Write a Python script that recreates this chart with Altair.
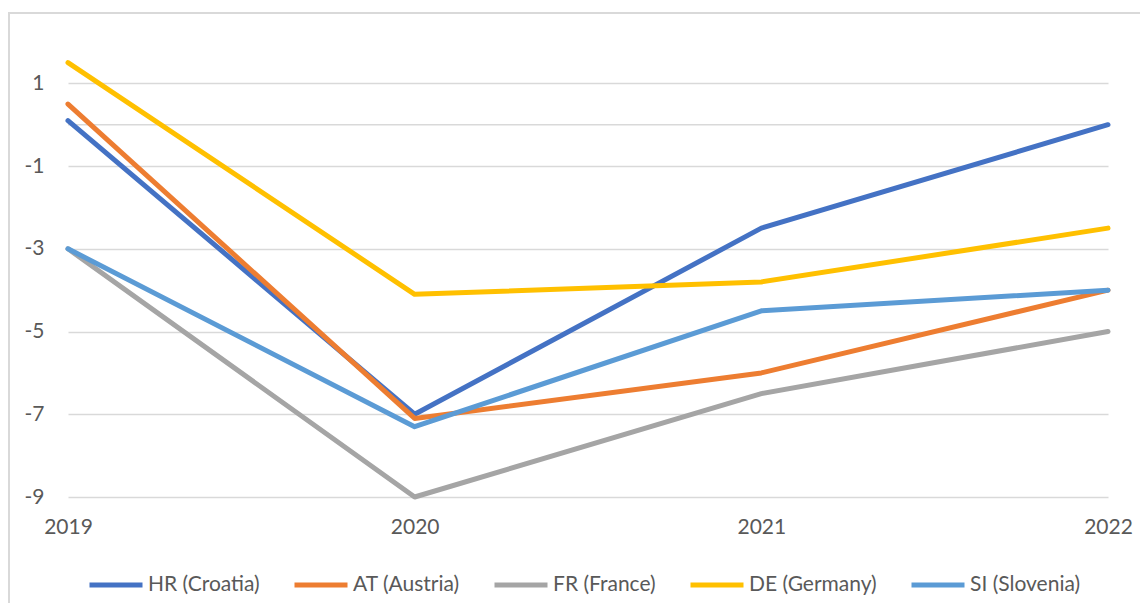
import altair as alt
import pandas as pd

years = ["2019", "2020", "2021", "2022"]
series_names = ["HR (Croatia)", "AT (Austria)", "FR (France)", "DE (Germany)", "SI (Slovenia)"]
hr = [0.1, -7.0, -2.5, 0.0]
at = [0.5, -7.1, -6.0, -4.0]
fr = [-3.0, -9.0, -6.5, -5.0]
de = [1.5, -4.1, -3.8, -2.5]
si = [-3.0, -7.3, -4.5, -4.0]
colors = ["#4472C4", "#ED7D31", "#A5A5A5", "#FFC000", "#5B9BD5"]
y_ticks = [1, -1, -3, -5, -7, -9]

rows = []
for name, vals in zip(series_names, [hr, at, fr, de, si]):
    for yr, v in zip(years, vals):
        rows.append({"Year": yr, "Series": name, "Value": v})
df = pd.DataFrame(rows)

FONT = "Lato"
TXT = "#595959"
GRID = "#D9D9D9"

x_enc = alt.X("Year:O", scale=alt.Scale(type="point", padding=0),
              axis=alt.Axis(title=None, labelAngle=0, domain=False, ticks=False,
                            labelPadding=19, labelFontSize=21, labelColor=TXT,
                            labelFont=FONT, grid=False))
y_scale = alt.Scale(domain=[-9, 2], nice=False, zero=False)
y_axis = alt.Axis(title=None, values=y_ticks, domain=False, ticks=False,
                  labelPadding=24, labelFontSize=21, labelColor=TXT,
                  labelFont=FONT, grid=True, gridColor=GRID, gridWidth=1.5,
                  labelExpr="toString(datum.value)")

lines = alt.Chart(df).mark_line(strokeWidth=5, strokeCap="round", strokeJoin="round").encode(
    x=x_enc,
    y=alt.Y("Value:Q", scale=y_scale, axis=y_axis),
    color=alt.Color("Series:N", scale=alt.Scale(domain=series_names, range=colors),
                    legend=alt.Legend(title=None, orient="none", direction="horizontal",
                                      legendX=19, legendY=514,
                                      symbolType="stroke", symbolSize=2809,
                                      symbolStrokeWidth=5, labelFontSize=21,
                                      labelColor=TXT, labelFont=FONT, labelOffset=3,
                                      columnPadding=24, columns=5)),
    order=alt.Order("Series:N", sort="ascending"),
)

zero_df = pd.DataFrame({"v": [0]})
zero_rule = alt.Chart(zero_df).mark_rule(color=GRID, strokeWidth=1.5).encode(
    y=alt.Y("v:Q", scale=y_scale, axis=y_axis)
)

frame_left = alt.Chart(zero_df).mark_rule(color=GRID, strokeWidth=2).encode(
    x=alt.value(-59), y=alt.value(-29), y2=alt.value(571)
)
frame_top = alt.Chart(zero_df).mark_rule(color=GRID, strokeWidth=2).encode(
    x=alt.value(-60), x2=alt.value(1080), y=alt.value(-29)
)

chart = alt.layer(frame_left, frame_top, zero_rule, lines).properties(
    width=1040, height=455,
    background="white",
    autosize=alt.AutoSizeParams(type="none"),
    padding={"left": 60, "top": 34, "right": 32, "bottom": 106},
).configure_view(strokeWidth=0, stroke="transparent")

chart.save("out.html", embed_options={"renderer": "svg", "actions": False})
